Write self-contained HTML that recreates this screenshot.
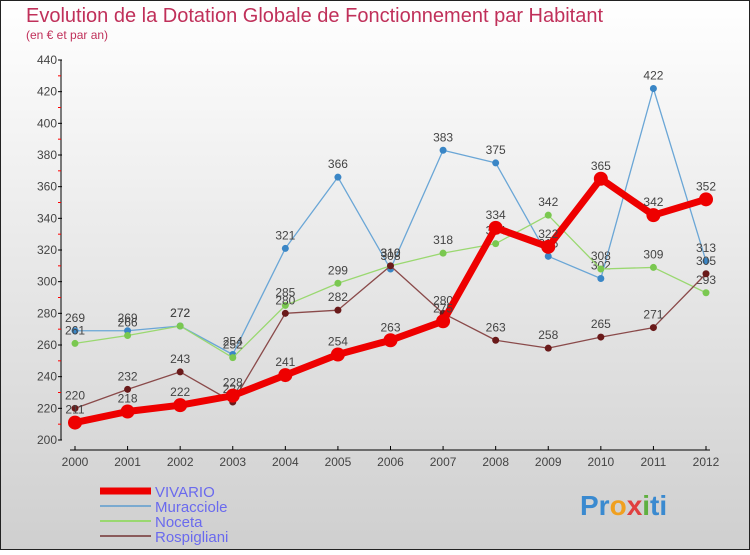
<!DOCTYPE html>
<html><head><meta charset="utf-8"><style>
body{margin:0}
#c{width:750px;height:550px;position:relative;font-family:"Liberation Sans",sans-serif;}
</style></head><body>
<div id="c">
<svg id="s" width="750" height="550" xmlns="http://www.w3.org/2000/svg">
<defs><linearGradient id="bg" x1="0" y1="0" x2="0" y2="1"><stop offset="0" stop-color="#ffffff"/><stop offset="1" stop-color="#cfcfcf"/></linearGradient></defs>
<rect x="0.5" y="0.5" width="749" height="549" fill="url(#bg)" stroke="#222"/>
<text x="26" y="22" font-size="20" fill="#c0305a">Evolution de la Dotation Globale de Fonctionnement par Habitant</text>
<text x="26" y="39" font-size="12" fill="#c0305a">(en € et par an)</text>
<g id="axes"></g><g id="series"></g><g id="legend"></g>
<text x="580" y="515" font-size="28" font-weight="bold" fill="#3a8ad0">Pr<tspan fill="#f0a020">o</tspan><tspan fill="#e04040">x</tspan><tspan fill="#60b040">i</tspan>ti</text>
</svg></div>
<script>
const years=[2000,2001,2002,2003,2004,2005,2006,2007,2008,2009,2010,2011,2012];
const yTicks=[200,220,240,260,280,300,320,340,360,380,400,420,440];
const vivario=[211,218,222,228,241,254,263,275,334,322,365,342,352];
const muracciole=[269,269,272,254,321,366,308,383,375,316,302,422,313];
const noceta=[261,266,272,252,285,299,310,318,324,342,308,309,293];
const rospigliani=[220,232,243,224,280,282,310,280,263,258,265,271,305];
const NS="http://www.w3.org/2000/svg";
function X(i){return 75+i*(706-75)/12;}
function Y(v){return 440-(v-200)*380/240;}
function mk(t,a,p){const e=document.createElementNS(NS,t);for(const k in a)e.setAttribute(k,a[k]);p.appendChild(e);return e;}
const ax=document.getElementById('axes');
let l=mk('line',{x1:61,y1:60,x2:61,y2:440,stroke:'#000'},ax);


l=mk('line',{x1:70,y1:450,x2:710,y2:450,stroke:'#000'},ax);


yTicks.forEach((v,i)=>{mk('line',{x1:58,y1:Y(v),x2:62,y2:Y(v),stroke:'#000'},ax);
 if(i<yTicks.length-1)mk('line',{x1:58,y1:Y(v+10),x2:61,y2:Y(v+10),stroke:'red'},ax);
 const t=mk('text',{x:57,y:Y(v)+4,'font-size':12,fill:'#444','text-anchor':'end'},ax);t.textContent=v;
 
 });
years.forEach((y,i)=>{mk('line',{x1:X(i),y1:446,x2:X(i),y2:450,stroke:'#000'},ax);
 const t=mk('text',{x:X(i),y:466,'font-size':12,fill:'#444','text-anchor':'middle'},ax);t.textContent=y;
 
 });
const sg=document.getElementById('series');
const defs=[[muracciole,'#6aa6d6','#3a86c6',1.3,3.5,'muracciole'],[noceta,'#9ad870','#7ac850',1.3,3.5,'noceta'],[rospigliani,'#8a4a4a','#6a1a1a',1.3,3.5,'rospigliani'],[vivario,'#ee0000','#ee0000',7,7,'vivario']];
defs.forEach(([d,c,pc,w,r,n])=>{
 const g=mk('g',{},sg);
 
 
 const p=mk('polyline',{points:d.map((v,i)=>X(i)+','+Y(v)).join(' '),fill:'none',stroke:c,'stroke-width':w,'stroke-linejoin':'round'},g);
 
 
 d.forEach((v,i)=>{const ci=mk('circle',{cx:X(i),cy:Y(v),r:r,fill:pc},g);
  
  
  const t=mk('text',{x:X(i),y:Y(v)-9,'font-size':12,fill:'#444','text-anchor':'middle'},g);t.textContent=v;
  
  });
});
const lg=document.getElementById('legend');
[['VIVARIO','#ee0000',7],['Muracciole','#7aaad0',2],['Noceta','#9ad870',2],['Rospigliani','#8a5a5a',2]].forEach(([n,c,w],i)=>{
 const y=491+i*15;
 const g=mk('g',{},lg);
 
 
 mk('line',{x1:100,y1:y,x2:151,y2:y,stroke:c,'stroke-width':w},g);
 const t=mk('text',{x:155,y:y+6,'font-size':15,fill:'#6a6aee'},g);t.textContent=n;
});
</script></body></html>
